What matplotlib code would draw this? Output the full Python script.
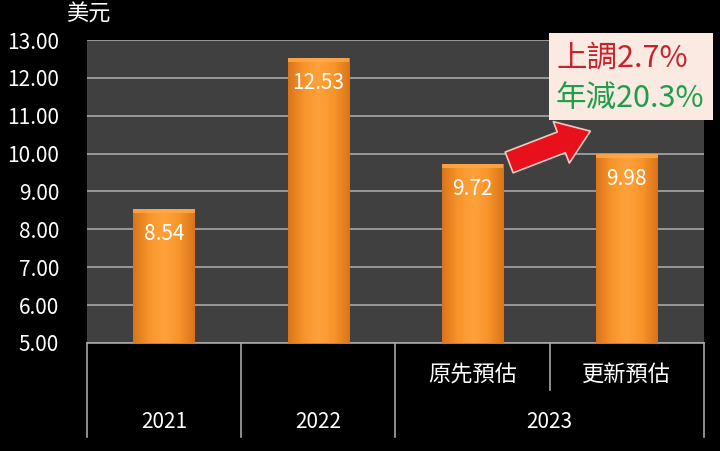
import numpy as np
import matplotlib.pyplot as plt
from matplotlib.patches import Rectangle, FancyArrowPatch
from matplotlib.colors import LinearSegmentedColormap
import matplotlib.transforms as mtransforms

plt.rcParams['font.family'] = ['Noto Sans CJK TC', 'DejaVu Sans']

# data
sub_labels = ["", "", "原先預估", "更新預估"]
year_labels = ["2021", "2022", "2023"]
year_spans = [(0, 0), (1, 1), (2, 3)]
values = [8.54, 12.53, 9.72, 9.98]
y_ticks = [5, 6, 7, 8, 9, 10, 11, 12, 13]
note_up = "上調2.7%"
note_down = "年減20.3%"

fig = plt.figure(figsize=(7.2, 4.51), dpi=100, facecolor="black")
ax = fig.add_axes([0.1208, 0.2395, 0.857, 0.6718])
ax.set_facecolor("#404040")

x = np.arange(len(values))
bars = ax.bar(x, [v - 5 for v in values], bottom=5, width=0.4,
              color="#F39022", edgecolor="none", zorder=3)

# horizontal gradient on each bar
cmap = LinearSegmentedColormap.from_list(
    "org", ["#D9741A", "#F7942A", "#FFA23C", "#F7942A", "#D9741A"])
grad = np.linspace(0, 1, 256).reshape(1, -1)
for b in bars:
    x0, y0 = b.get_x(), b.get_y()
    w, h = b.get_width(), b.get_height()
    im = ax.imshow(grad, cmap=cmap, extent=[x0, x0 + w, y0, y0 + h],
                   aspect="auto", zorder=4)
    im.set_clip_path(b)
    # soft cap at top
    ax.add_patch(Rectangle((x0, y0 + h - 0.1), w, 0.1, color="#FFAA4C",
                           alpha=0.8, zorder=5, lw=0))

for xi, v in zip(x, values):
    ax.annotate(f"{v:.2f}", (xi, v), xytext=(0, -18), textcoords="offset points",
                ha="center", va="center", color="white", fontsize=15, zorder=6)

ax.set_xlim(-0.5, len(values) - 0.5)
ax.set_ylim(5, 13)
ax.set_yticks(y_ticks)
ax.set_yticklabels([f"{t:.2f}" for t in y_ticks], color="white", fontsize=15)
ax.yaxis.grid(True, color="#A8A8A8", lw=1.2, zorder=1)
ax.set_axisbelow(True)
ax.tick_params(axis="y", length=0, pad=20)
ax.tick_params(axis="x", length=0, labelbottom=False)
for s in ["top", "right", "left"]:
    ax.spines[s].set_visible(False)
ax.spines["bottom"].set_color("#A8A8A8")
ax.spines["bottom"].set_linewidth(1.2)

ax.text(0.003, 1.085, "美元", transform=ax.transAxes, color="white",
        fontsize=16, ha="center", va="center")

# hierarchical category axis
tr = mtransforms.blended_transform_factory(ax.transData, ax.transAxes)
line_kw = dict(color="#A8A8A8", lw=1.2, transform=tr, clip_on=False)
for i, (a, b) in enumerate(year_spans):
    ax.plot([a - 0.5, a - 0.5], [0, -0.31], **line_kw)
    ax.text((a + b) / 2, -0.26, year_labels[i], transform=tr, ha="center",
            va="center", color="white", fontsize=15)
ax.plot([len(values) - 0.5] * 2, [0, -0.31], **line_kw)
for xi, lab in enumerate(sub_labels):
    if lab:
        ax.text(xi, -0.105, lab, transform=tr, ha="center", va="center",
                color="white", fontsize=16)
ax.plot([2.5, 2.5], [0, -0.155], **line_kw)

# red arrow from original to updated estimate
arrow = FancyArrowPatch((2.22, 9.74), (2.78, 10.62),
                        arrowstyle="simple,head_length=1.4,head_width=2.0,tail_width=1.0",
                        mutation_scale=16, facecolor="#E8101A",
                        edgecolor="#F4C8C0", lw=1.2, zorder=7)
ax.add_patch(arrow)

# note box
fig.patches.append(Rectangle((549 / 720, 1 - 120 / 451), 164 / 720, 87 / 451,
                             transform=fig.transFigure, facecolor="#FBEAE2",
                             edgecolor="none", zorder=8))
fig.text(556 / 720, 1 - 58 / 451, note_up, color="#C8232B", fontsize=22,
         ha="left", va="center", zorder=9)
fig.text(556 / 720, 1 - 98 / 451, note_down, color="#1F9E4C", fontsize=22,
         ha="left", va="center", zorder=9)

fig.savefig("out.png", dpi=100, facecolor="black")
